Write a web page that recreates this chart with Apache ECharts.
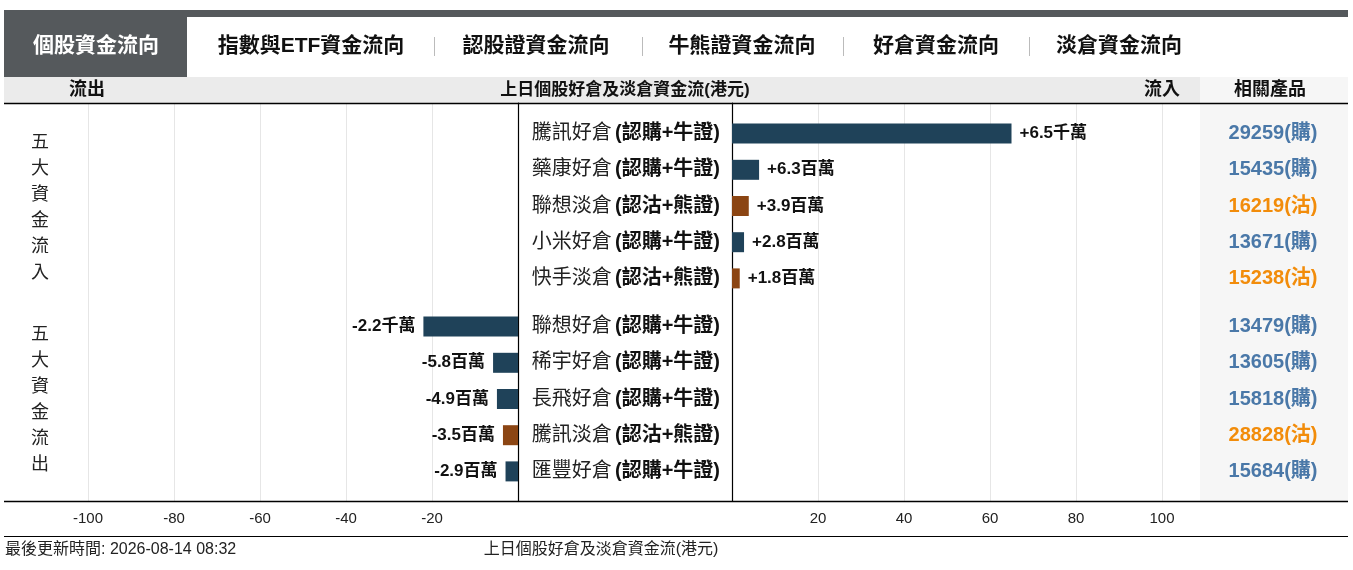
<!DOCTYPE html>
<html>
<head>
<meta charset="utf-8">
<title>個股資金流向</title>
<style>
  html, body { margin: 0; padding: 0; background: #fff; }
  #main { width: 1353px; height: 570px; }
</style>
</head>
<body>
<div id="main"></div>
<script src="https://cdn.jsdelivr.net/npm/echarts@6/dist/echarts.min.js"></script>
<script>
// 資料
var inNames = ['騰訊好倉 (認購+牛證)', '藥康好倉 (認購+牛證)', '聯想淡倉 (認沽+熊證)', '小米好倉 (認購+牛證)', '快手淡倉 (認沽+熊證)'];
var inValues = [65, 6.3, 3.9, 2.8, 1.8];           // 百萬港元
var inLabels = ['+6.5千萬', '+6.3百萬', '+3.9百萬', '+2.8百萬', '+1.8百萬'];
var inSide = ['bull', 'bull', 'bear', 'bull', 'bear'];
var inCodes = ['29259(購)', '15435(購)', '16219(沽)', '13671(購)', '15238(沽)'];

var outNames = ['聯想好倉 (認購+牛證)', '稀宇好倉 (認購+牛證)', '長飛好倉 (認購+牛證)', '騰訊淡倉 (認沽+熊證)', '匯豐好倉 (認購+牛證)'];
var outValues = [-22, -5.8, -4.9, -3.5, -2.9];
var outLabels = ['-2.2千萬', '-5.8百萬', '-4.9百萬', '-3.5百萬', '-2.9百萬'];
var outSide = ['bull', 'bull', 'bull', 'bear', 'bull'];
var outCodes = ['13479(購)', '13605(購)', '15818(購)', '28828(沽)', '15684(購)'];

var tabs = ['個股資金流向', '指數與ETF資金流向', '認股證資金流向', '牛熊證資金流向', '好倉資金流向', '淡倉資金流向'];

var FONT = '"Liberation Sans", Arial, "Noto Sans CJK TC", sans-serif';
var barColor = { bull: '#1f4259', bear: '#8b4513' };
var codeColor = { bull: '#4a78a8', bear: '#f28c0a' };

var myChart = echarts.init(document.getElementById('main'));

function barData(vals, side) {
    return vals.map(function (v, i) {
        return { value: v, itemStyle: { color: barColor[side[i]] } };
    });
}

function gridX(idx, isLeft, showLabel) {
    return {
        gridIndex: idx, type: 'value',
        min: isLeft ? -100 : 0, max: isLeft ? 0 : 100, interval: 20,
        show: showLabel,
        axisLine: { show: false }, axisTick: { show: false },
        splitLine: { show: showLabel, lineStyle: { color: '#e6e6e6' } },
        axisLabel: {
            show: showLabel, margin: 10, fontSize: 15, color: '#222', fontFamily: FONT,
            formatter: function (v) { return v === 0 ? '' : v; }
        }
    };
}

function nameAxis(idx, names) {
    return {
        gridIndex: idx, type: 'category', inverse: true, data: names, position: 'left',
        axisLine: { show: false }, axisTick: { show: false },
        axisLabel: {
            margin: 12, fontFamily: FONT,
            formatter: function (v) {
                var p = v.split(' ');
                return '{n|' + p[0] + '} {b|' + p[1] + '}';
            },
            rich: {
                n: { fontSize: 20, color: '#222', fontFamily: FONT },
                b: { fontSize: 20, color: '#111', fontWeight: 'bold', fontFamily: FONT }
            }
        }
    };
}

function codeAxis(idx, codes, side) {
    return {
        gridIndex: idx, type: 'category', inverse: true, data: codes, position: 'right',
        axisLine: { show: false }, axisTick: { show: false },
        axisLabel: {
            margin: 111, align: 'center', fontSize: 20, fontWeight: 'bold', fontFamily: FONT,
            color: function (v, i) { return codeColor[side[i]]; }
        }
    };
}

var graphics = [
    { type: 'rect', shape: { x: 4, y: 10, width: 1344, height: 7 }, style: { fill: '#55595c' }, silent: true },
    { type: 'rect', shape: { x: 4, y: 17, width: 183, height: 60 }, style: { fill: '#55595c' }, silent: true },
    { type: 'rect', shape: { x: 4, y: 77, width: 1196, height: 26 }, style: { fill: '#ebebeb' }, silent: true },
    { type: 'rect', shape: { x: 1200, y: 77, width: 148, height: 424 }, style: { fill: '#f6f6f6' }, silent: true },
    { type: 'line', shape: { x1: 4, y1: 103.5, x2: 1348, y2: 103.5 }, style: { stroke: '#000', lineWidth: 1.5 }, z: 10 },
    { type: 'line', shape: { x1: 4, y1: 501.5, x2: 1348, y2: 501.5 }, style: { stroke: '#000', lineWidth: 1.5 }, z: 10 },
    { type: 'line', shape: { x1: 4, y1: 536.5, x2: 1348, y2: 536.5 }, style: { stroke: '#000', lineWidth: 1.2 }, z: 10 },
    { type: 'text', x: 87, y: 90, style: { text: '流出', font: 'bold 18px ' + FONT, fill: '#111', align: 'center', verticalAlign: 'middle' } },
    { type: 'text', x: 625, y: 90, style: { text: '上日個股好倉及淡倉資金流(港元)', font: 'bold 17px ' + FONT, fill: '#111', align: 'center', verticalAlign: 'middle' } },
    { type: 'text', x: 1162, y: 90, style: { text: '流入', font: 'bold 18px ' + FONT, fill: '#111', align: 'center', verticalAlign: 'middle' } },
    { type: 'text', x: 1270, y: 90, style: { text: '相關產品', font: 'bold 18px ' + FONT, fill: '#111', align: 'center', verticalAlign: 'middle' } },
    { type: 'text', x: 40, y: 130, style: { text: '五\n大\n資\n金\n流\n入', font: '18px ' + FONT, lineHeight: 26, fill: '#222', align: 'center' } },
    { type: 'text', x: 40, y: 322, style: { text: '五\n大\n資\n金\n流\n出', font: '18px ' + FONT, lineHeight: 26, fill: '#222', align: 'center' } },
    { type: 'text', x: 5, y: 550, style: { text: '最後更新時間: 2026-08-14 08:32', font: '16px ' + FONT, fill: '#222', verticalAlign: 'middle' } },
    { type: 'text', x: 601, y: 550, style: { text: '上日個股好倉及淡倉資金流(港元)', font: '16px ' + FONT, fill: '#222', align: 'center', verticalAlign: 'middle' } }
];

// 頁籤
var tabX = [96, 311, 536, 742, 936, 1119];
var sepX = [434, 642, 843, 1029];
tabs.forEach(function (t, i) {
    graphics.push({ type: 'text', x: tabX[i], y: 46, style: {
        text: t, font: 'bold 21px ' + FONT, fill: i === 0 ? '#fff' : '#111',
        align: 'center', verticalAlign: 'middle' } });
});
sepX.forEach(function (x) {
    graphics.push({ type: 'line', shape: { x1: x + 0.5, y1: 37, x2: x + 0.5, y2: 56 }, style: { stroke: '#bbb', lineWidth: 1 } });
});

var option = {
    animation: false,
    textStyle: { fontFamily: FONT },
    grid: [
        { left: 88, width: 430, top: 103, height: 398 },   // 0 左 背景
        { left: 732, width: 430, top: 103, height: 398 },  // 1 右 背景
        { left: 88, width: 430, top: 115.5, height: 181 },   // 2 左上
        { left: 732, width: 430, top: 115.5, height: 181 },  // 3 右上
        { left: 88, width: 430, top: 308.5, height: 181 },   // 4 左下
        { left: 732, width: 430, top: 308.5, height: 181 }   // 5 右下
    ],
    xAxis: [
        gridX(0, true, true),
        gridX(1, false, true),
        gridX(2, true, false),
        gridX(3, false, false),
        gridX(4, true, false),
        gridX(5, false, false)
    ],
    yAxis: [
        { gridIndex: 0, type: 'value', min: 0, max: 1, position: 'right',
          axisLine: { show: true, lineStyle: { color: '#000', width: 1.2 } },
          axisTick: { show: false }, axisLabel: { show: false }, splitLine: { show: false } },
        { gridIndex: 1, type: 'value', min: 0, max: 1, position: 'left',
          axisLine: { show: true, lineStyle: { color: '#000', width: 1.2 } },
          axisTick: { show: false }, axisLabel: { show: false }, splitLine: { show: false } },
        { gridIndex: 2, type: 'category', inverse: true, data: inNames, show: false },
        nameAxis(3, inNames),
        { gridIndex: 4, type: 'category', inverse: true, data: outNames, show: false },
        nameAxis(5, outNames),
        codeAxis(3, inCodes, inSide),
        codeAxis(5, outCodes, outSide)
    ],
    series: [
        {
            type: 'bar', xAxisIndex: 3, yAxisIndex: 3, barWidth: 20,
            data: barData(inValues, inSide),
            label: { show: true, position: 'right', distance: 8, fontSize: 17, fontWeight: 'bold', color: '#111', fontFamily: FONT,
                     formatter: function (p) { return inLabels[p.dataIndex]; } }
        },
        {
            type: 'bar', xAxisIndex: 4, yAxisIndex: 4, barWidth: 20,
            data: barData(outValues, outSide),
            label: { show: true, position: 'left', distance: 8, fontSize: 17, fontWeight: 'bold', color: '#111', fontFamily: FONT,
                     formatter: function (p) { return outLabels[p.dataIndex]; } }
        }
    ],
    graphic: graphics
};

myChart.setOption(option);
</script>
</body>
</html>
